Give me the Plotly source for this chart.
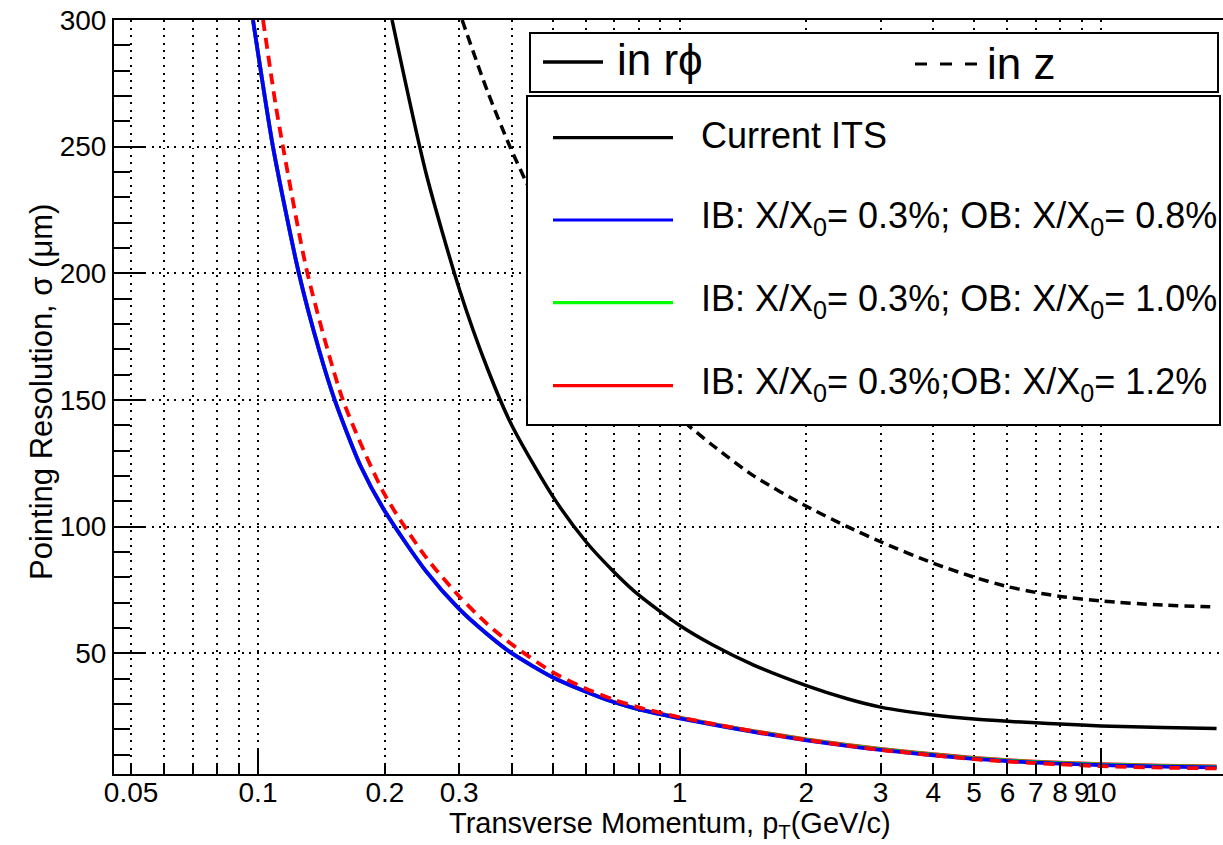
import math
import plotly.graph_objects as go

# ---------------- data ----------------
# Current ITS, transverse (r-phi) pointing resolution
pt_its_rphi = [0.208, 0.25, 0.3, 0.35, 0.4, 0.5, 0.6, 0.7, 0.8, 1.0, 1.2, 1.5, 2.0,
               2.5, 3.0, 4.0, 5.0, 6.0, 7.0, 8.0, 10, 14, 18.8]
sig_its_rphi = [300, 240, 194, 162.5, 140, 112, 94, 82, 73, 61, 53.2, 45.3, 37.2,
                32, 28.7, 25.6, 24.0, 23.1, 22.5, 22.0, 21.3, 20.7, 20.3]

# Current ITS, longitudinal (z) pointing resolution
pt_its_z = [0.305, 0.35, 0.396, 0.43, 0.5, 0.6, 0.8, 1.0, 1.2, 1.5, 2.0, 2.5, 3.0,
            4.0, 5.0, 6.0, 7.0, 8.0, 10, 14, 18.8]
sig_its_z = [300, 272, 250, 237, 214, 190, 160, 143, 132, 120, 108, 100, 94,
             85.5, 80, 76.3, 74, 72.4, 70.6, 69, 68.3]

# Upgrade scenarios (IB: X/X0 = 0.3%), r-phi
pt_upg = [0.0973, 0.1, 0.1085, 0.125, 0.14, 0.152, 0.175, 0.2, 0.25, 0.3, 0.35, 0.4,
          0.5, 0.6, 0.7, 0.8, 1.0, 1.3, 1.6, 2.0, 2.5, 3.0, 4.0, 5.0, 6.0, 7.0, 8.0,
          10, 14, 18.8]
sig_ob08 = [300, 287, 250, 200, 169, 150, 124, 106, 82.5, 67.5, 57.5, 50,
            40.5, 34.8, 30.6, 27.8, 24.3, 20.7, 18.1, 15.6, 13.4, 11.8, 9.7, 8.3, 7.4, 6.8, 6.4,
            5.8, 5.2, 4.9]
sig_ob10 = [300, 287, 250, 200, 169, 150, 124, 106, 82.5, 67.5, 57.5, 50,
            40.5, 34.8, 30.6, 27.8, 24.4, 20.8, 18.3, 15.8, 13.6, 12.0, 9.9, 8.5, 7.6, 7.0, 6.6,
            6.0, 5.4, 5.1]
sig_ob12 = [300, 287, 250, 200, 169, 150, 124, 106, 82.5, 67.5, 57.5, 50,
            40.5, 34.8, 30.7, 27.9, 24.6, 21.0, 18.5, 16.0, 13.8, 12.2, 10.1, 8.7, 7.8, 7.2, 6.8,
            6.2, 5.6, 5.3]

# IB 0.3% / OB 1.2%, longitudinal (z)
pt_ob12_z = [0.1028, 0.11, 0.1146, 0.131, 0.159, 0.2, 0.25, 0.3, 0.35, 0.4, 0.5, 0.6,
             0.7, 0.8, 1.0, 1.3, 1.6, 2.0, 2.5, 3.0, 4.0, 5.0, 6.0, 7.0, 8.0, 10, 14, 18.8]
sig_ob12_z = [300, 267, 250, 200, 150, 112.5, 88, 72.5, 61.5, 53.5, 42.5, 36,
              31.6, 28.6, 24.7, 21.0, 18.3, 15.7, 13.5, 11.8, 9.7, 8.2, 7.2, 6.6, 6.1, 5.4, 4.8, 4.5]

# axis ticks
x_label_vals = [0.05, 0.1, 0.2, 0.3, 1, 2, 3, 4, 5, 6, 7, 8, 9, 10]
x_label_text = ["0.05", "0.1", "0.2", "0.3", "1", "2", "3", "4", "5", "6", "7", "8", "9", "10"]
x_unlabelled = [0.06, 0.07, 0.08, 0.09, 0.4, 0.5, 0.6, 0.7, 0.8, 0.9]
x_decades = [0.1, 1, 10]
y_major = [50, 100, 150, 200, 250, 300]

legend_labels = [
    "Current ITS",
    "IB: X/X<sub>0</sub>= 0.3%; OB: X/X<sub>0</sub>= 0.8%",
    "IB: X/X<sub>0</sub>= 0.3%; OB: X/X<sub>0</sub>= 1.0%",
    "IB: X/X<sub>0</sub>= 0.3%;OB: X/X<sub>0</sub>= 1.2%",
]
legend_colors = ["black", "#0000ff", "#00ff00", "#ff0000"]

# ---------------- layout geometry (pixels) ----------------
W, H = 1223, 845
PL, PT, PB, PR = 114, 20, 774, 1223
FONT = "Liberation Sans, Arial, Helvetica, sans-serif"
GRID = dict(showgrid=True, gridcolor="black", gridwidth=1.5, griddash="2px,5.5px")


def fx(px):
    return (px - PL) / (PR - PL)


def fy(py):
    return (PB - py) / (PB - PT)


fig = go.Figure()


def curve(x, y, color, width, dash="solid"):
    fig.add_trace(go.Scatter(x=x, y=y, mode="lines",
                             line=dict(color=color, width=width, dash=dash, shape="spline", smoothing=0.7),
                             showlegend=False, hoverinfo="skip"))


curve(pt_its_rphi, sig_its_rphi, "black", 3.5)
curve(pt_its_z, sig_its_z, "black", 3.5, "10px,6px")
curve(pt_upg, sig_ob12, "#ff0000", 3.8)
curve(pt_upg, sig_ob10, "#00ff00", 3.8)
curve(pt_upg, sig_ob08, "#0000ff", 3.8)
curve(pt_ob12_z, sig_ob12_z, "#ff0000", 3.8, "11px,7px")

# helper trace so the overlay axis carrying the long decade ticks is drawn
fig.add_trace(go.Scatter(x=[1], y=[None], xaxis="x2", mode="markers",
                         marker=dict(opacity=0), showlegend=False, hoverinfo="skip"))

xr = [math.log10(0.1) - (258 - PL) / 421.5, math.log10(0.1) + (PR - 258) / 421.5]

fig.update_layout(
    width=W, height=H,
    margin=dict(l=PL, r=W - PR, t=PT, b=H - PB, pad=0),
    paper_bgcolor="white", plot_bgcolor="white",
    font=dict(family=FONT, color="black"),
    xaxis=dict(
        type="log", range=xr,
        tickmode="array", tickvals=x_label_vals, ticktext=x_label_text,
        ticks="inside", ticklen=11, tickwidth=2, tickcolor="black",
        tickfont=dict(size=28, family=FONT), tickangle=0, ticklabelstandoff=-8,
        minor=dict(tickmode="array", tickvals=x_unlabelled, ticks="inside", ticklen=11,
                   tickwidth=2, tickcolor="black", **GRID),
        showline=True, linecolor="black", linewidth=2, mirror=True,
        zeroline=False, **GRID,
    ),
    xaxis2=dict(
        type="log", range=xr, overlaying="x", anchor="y", side="bottom",
        tickmode="array", tickvals=x_decades,
        ticks="inside", ticklen=24, tickwidth=2, tickcolor="black",
        showticklabels=False, showgrid=False, showline=False, zeroline=False,
    ),
    yaxis=dict(
        range=[2.3, 300],
        tickmode="array", tickvals=y_major,
        ticks="inside", ticklen=32, tickwidth=2, tickcolor="black",
        tickfont=dict(size=28, family=FONT),
        minor=dict(tick0=0, dtick=10, ticks="inside", ticklen=16, tickwidth=2,
                   tickcolor="black", showgrid=False),
        showline=True, linecolor="black", linewidth=2, mirror=False,
        zeroline=False, **GRID,
    ),
)

# axis titles
fig.add_annotation(text="Transverse Momentum, p<sub>T</sub>(GeV/c)", xref="paper", yref="paper",
                   x=fx(670), y=fy(825), xanchor="center", yanchor="middle",
                   showarrow=False, font=dict(size=29, family=FONT))
fig.add_annotation(text="Pointing Resolution, σ (μm)", xref="paper", yref="paper",
                   x=fx(41), y=fy(392), xanchor="center", yanchor="middle", textangle=-90,
                   showarrow=False, font=dict(size=31, family=FONT))

# legend boxes
shapes = []
shapes.append(dict(type="rect", xref="paper", yref="paper", x0=fx(530), x1=fx(1218), y0=fy(92), y1=fy(33),
                   line=dict(color="black", width=2), fillcolor="white", layer="above"))
shapes.append(dict(type="rect", xref="paper", yref="paper", x0=fx(527), x1=fx(1220), y0=fy(425), y1=fy(96),
                   line=dict(color="black", width=2), fillcolor="white", layer="above"))
# line-style keys
shapes.append(dict(type="line", xref="paper", yref="paper", x0=fx(543), x1=fx(603), y0=fy(62), y1=fy(62),
                   line=dict(color="black", width=3.5), layer="above"))
shapes.append(dict(type="line", xref="paper", yref="paper", x0=fx(915), x1=fx(977), y0=fy(64), y1=fy(64),
                   line=dict(color="black", width=3, dash="12px,13px"), layer="above"))
fig.add_annotation(text="in rϕ", xref="paper", yref="paper", x=fx(615), y=fy(60),
                   xanchor="left", yanchor="middle", showarrow=False, font=dict(size=44, family=FONT))
fig.add_annotation(text="in z", xref="paper", yref="paper", x=fx(985), y=fy(64),
                   xanchor="left", yanchor="middle", showarrow=False, font=dict(size=44, family=FONT))

row_y = [137.7, 220, 302.7, 385.7]
for lab, col, ry in zip(legend_labels, legend_colors, row_y):
    shapes.append(dict(type="line", xref="paper", yref="paper", x0=fx(553), x1=fx(673), y0=fy(ry), y1=fy(ry),
                       line=dict(color=col, width=3.2), layer="above"))
    fig.add_annotation(text=lab, xref="paper", yref="paper", x=fx(699), y=fy(ry - 2),
                       xanchor="left", yanchor="middle", showarrow=False, font=dict(size=36, family=FONT))

fig.update_layout(shapes=shapes)

fig.write_html("out.html")
